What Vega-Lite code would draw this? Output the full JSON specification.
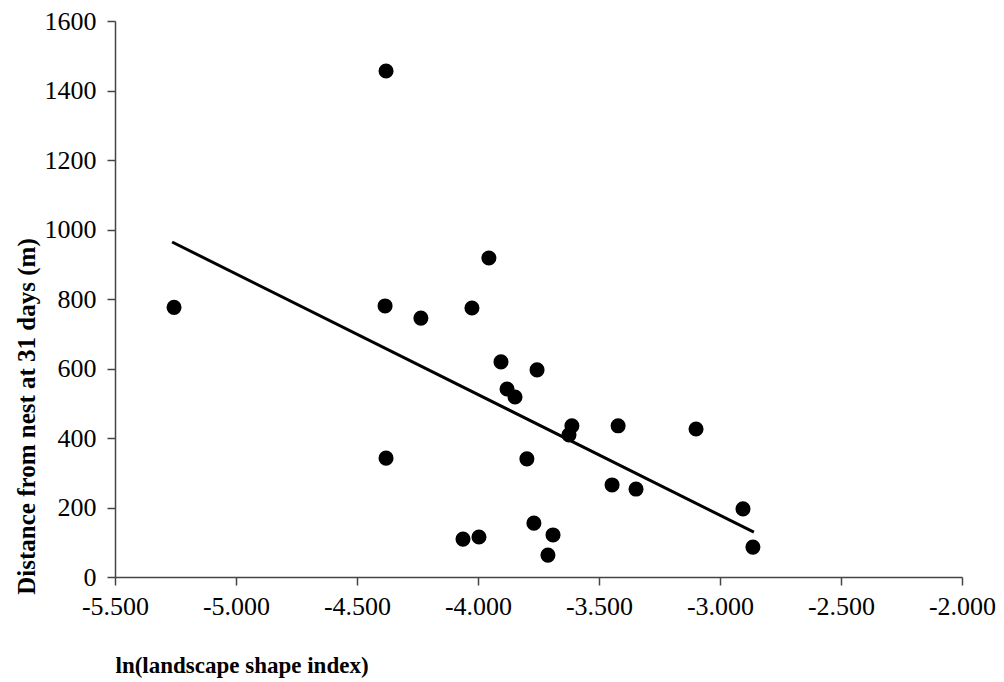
{
  "$schema": "https://vega.github.io/schema/vega-lite/v6.json",
  "width": 847,
  "height": 556,
  "autosize": "none",
  "padding": {"left": 115, "top": 21, "right": 42, "bottom": 105},
  "background": "white",
  "config": {
    "view": {"stroke": null},
    "font": "Liberation Serif",
    "axis": {
      "grid": false,
      "domainColor": "#444444",
      "domainWidth": 1.5,
      "tickColor": "#444444",
      "tickWidth": 1.5,
      "tickSize": 8,
      "labelFont": "Liberation Serif",
      "labelFontSize": 26,
      "labelColor": "black",
      "labelFlush": false,
      "labelOverlap": false,
      "titleFont": "Liberation Serif",
      "titleFontWeight": "bold",
      "titleColor": "black"
    }
  },
  "datasets": {
    "points": [
      {"lsi": -5.256, "dist": 776},
      {"lsi": -4.380, "dist": 1456},
      {"lsi": -4.384, "dist": 780},
      {"lsi": -4.380, "dist": 342},
      {"lsi": -4.236, "dist": 745},
      {"lsi": -4.025, "dist": 774},
      {"lsi": -3.955, "dist": 918},
      {"lsi": -3.905, "dist": 619},
      {"lsi": -3.880, "dist": 541},
      {"lsi": -3.847, "dist": 518},
      {"lsi": -3.756, "dist": 596},
      {"lsi": -3.798, "dist": 340},
      {"lsi": -4.062, "dist": 109},
      {"lsi": -3.996, "dist": 115},
      {"lsi": -3.769, "dist": 155},
      {"lsi": -3.690, "dist": 121},
      {"lsi": -3.711, "dist": 63},
      {"lsi": -3.612, "dist": 435},
      {"lsi": -3.624, "dist": 409},
      {"lsi": -3.421, "dist": 435},
      {"lsi": -3.446, "dist": 265},
      {"lsi": -3.347, "dist": 253},
      {"lsi": -3.099, "dist": 426},
      {"lsi": -2.905, "dist": 196},
      {"lsi": -2.864, "dist": 86}
    ],
    "trend": [
      {"lsi": -5.264, "dist": 964},
      {"lsi": -2.860, "dist": 129}
    ]
  },
  "layer": [
    {
      "data": {"name": "trend"},
      "mark": {"type": "line", "color": "black", "strokeWidth": 3},
      "encoding": {
        "x": {"field": "lsi", "type": "quantitative"},
        "y": {"field": "dist", "type": "quantitative"}
      }
    },
    {
      "data": {"name": "points"},
      "mark": {"type": "circle", "color": "black", "opacity": 1, "size": 227},
      "encoding": {
        "x": {
          "field": "lsi",
          "type": "quantitative",
          "scale": {"domain": [-5.5, -2.0], "nice": false, "zero": false},
          "axis": {
            "values": [-5.5, -5.0, -4.5, -4.0, -3.5, -3.0, -2.5, -2.0],
            "labelExpr": "replace(format(datum.value, '.3f'), '\u2212', '-')",
            "labelPadding": 8,
            "title": "ln(landscape shape index)",
            "titleFontSize": 23,
            "titleAnchor": "start",
            "titleAlign": "left",
            "titleBaseline": "alphabetic",
            "titleX": 0,
            "titleY": 95
          }
        },
        "y": {
          "field": "dist",
          "type": "quantitative",
          "scale": {"domain": [0, 1600], "nice": false},
          "axis": {
            "values": [0, 200, 400, 600, 800, 1000, 1200, 1400, 1600],
            "format": "d",
            "labelPadding": 11,
            "title": "Distance from nest at 31 days (m)",
            "titleFontSize": 25,
            "titleAngle": -90,
            "titleAlign": "center",
            "titleBaseline": "alphabetic",
            "titleX": -81,
            "titleY": 395
          }
        }
      }
    }
  ]
}
